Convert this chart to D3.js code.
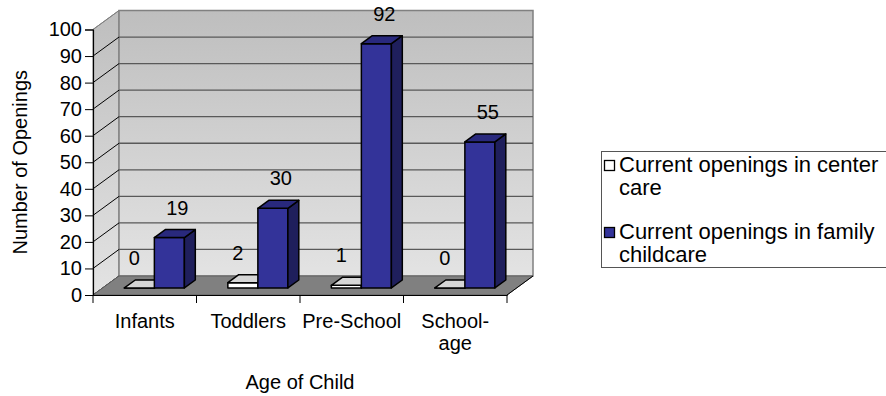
<!DOCTYPE html>
<html>
<head>
<meta charset="utf-8">
<script src="https://cdn.jsdelivr.net/npm/d3@7"></script>
<style>
  html, body { margin: 0; padding: 0; background: #ffffff; }
  svg { display: block; }
  text { font-family: "Liberation Sans", Arial, sans-serif; fill: #000; }
</style>
</head>
<body>
<svg id="chart" width="886" height="396"></svg>
<script>
// ---- data ----
const categories = ["Infants", "Toddlers", "Pre-School", "School-age"];
const categoryLines = [["Infants"], ["Toddlers"], ["Pre-School"], ["School-", "age"]];
const seriesNames = ["Current openings in center care", "Current openings in family childcare"];
const legendLines = [["Current openings in center", "care"], ["Current openings in family", "childcare"]];
const centerCare = [0, 2, 1, 0];
const familyCare = [19, 30, 92, 55];
const yTicks = [0, 10, 20, 30, 40, 50, 60, 70, 80, 90, 100];
const yTitle = "Number of Openings";
const xTitle = "Age of Child";

// ---- layout ----
const svg = d3.select("#chart");
const DX = 26, DY = -19;            // depth projection of the 3D box
const x = d3.scaleBand().domain(categories).range([93, 507]).padding(0);
const y = d3.scaleLinear().domain([0, 100]).range([295, 29.5]);
const P = (xf, v, t) => [xf + DX * t, y(v) + DY * t];
const poly = pts => pts.map(p => p.join(",")).join(" ");

const defs = svg.append("defs");
const g1 = defs.append("linearGradient").attr("id", "wallGrad")
  .attr("x1", 0).attr("y1", 0).attr("x2", 0).attr("y2", 1);
g1.append("stop").attr("offset", "0%").attr("stop-color", "#bebebe");
g1.append("stop").attr("offset", "100%").attr("stop-color", "#e3e3e3");

const x0 = x.range()[0], x1 = x.range()[1];

// side wall
svg.append("polygon")
  .attr("points", poly([P(x0, 0, 0), P(x0, 0, 1), P(x0, 100, 1), P(x0, 100, 0)]))
  .attr("fill", "url(#wallGrad)").attr("stroke", "#808080").attr("stroke-width", 1);
// back wall
svg.append("polygon")
  .attr("points", poly([P(x0, 0, 1), P(x1, 0, 1), P(x1, 100, 1), P(x0, 100, 1)]))
  .attr("fill", "url(#wallGrad)").attr("stroke", "#808080").attr("stroke-width", 1.5);

// gridlines on back wall and diagonals on side wall
yTicks.filter(v => v > 0 && v < 100).forEach(v => {
  svg.append("line")
    .attr("x1", P(x0, v, 1)[0]).attr("y1", P(x0, v, 1)[1])
    .attr("x2", P(x1, v, 1)[0]).attr("y2", P(x1, v, 1)[1])
    .attr("stroke", "#595959").attr("stroke-width", 1.3);
});
yTicks.forEach(v => {
  svg.append("line")
    .attr("x1", P(x0, v, 0)[0]).attr("y1", P(x0, v, 0)[1])
    .attr("x2", P(x0, v, 1)[0]).attr("y2", P(x0, v, 1)[1])
    .attr("stroke", v === 100 ? "#808080" : "#000").attr("stroke-width", 1);
});

// floor
svg.append("polygon")
  .attr("points", poly([P(x0, 0, 0), P(x1, 0, 0), P(x1, 0, 1), P(x0, 0, 1)]))
  .attr("fill", "#808080").attr("stroke", "#606060").attr("stroke-width", 1);

// y axis (front edge)
const yAxis = d3.axisLeft(y).tickValues(yTicks).tickSize(8).tickPadding(3).tickFormat(d3.format("d"));
const ya = svg.append("g").attr("transform", `translate(${x0},0)`).call(yAxis);
ya.select(".domain").attr("stroke", "#000").attr("stroke-width", 1.2);
ya.selectAll(".tick line").attr("stroke", "#000");
ya.selectAll(".tick text").attr("font-size", 20).attr("font-family", "Liberation Sans, Arial, sans-serif").attr("fill", "#000");

// x axis
const xAxis = d3.axisBottom(x).tickSize(0).tickFormat("");
const xa = svg.append("g").attr("transform", `translate(0,${y(0)})`).call(xAxis);
xa.select(".domain").attr("stroke", "#000").attr("stroke-width", 1.2);
const bounds = categories.map(c => x(c)).concat([x1]);
xa.selectAll("line.cb").data(bounds).enter().append("line").attr("class", "cb")
  .attr("x1", d => d).attr("x2", d => d).attr("y1", 0).attr("y2", 8)
  .attr("stroke", "#000").attr("stroke-width", 1);
// right floor edge
svg.append("line")
  .attr("x1", P(x1, 0, 0)[0]).attr("y1", P(x1, 0, 0)[1])
  .attr("x2", P(x1, 0, 1)[0]).attr("y2", P(x1, 0, 1)[1])
  .attr("stroke", "#000").attr("stroke-width", 1);

// category labels
categories.forEach((c, i) => {
  const t = svg.append("text").attr("text-anchor", "middle").attr("font-size", 20)
    .attr("x", x(c) + x.bandwidth() / 2).attr("y", 328);
  categoryLines[i].forEach((ln, k) => {
    t.append("tspan").attr("x", x(c) + x.bandwidth() / 2).attr("dy", k === 0 ? 0 : 22).text(ln);
  });
});

// ---- bars ----
const series = [
  { name: seriesNames[0], values: centerCare, front: "#ffffff", top: "#d6d6d6", side: "#c0c0c0", labelDx: -5 },
  { name: seriesNames[1], values: familyCare, front: "#333399", top: "#29297d", side: "#1f1f5c", labelDx: 8 }
];
const barW = x.bandwidth() * 0.29;
const T0 = 0.37, T1 = 0.79;
const barsG = svg.append("g");
const labelsG = svg.append("g");
categories.forEach((c, i) => {
  const cx = x(c) + x.bandwidth() / 2;
  series.forEach((s, k) => {
    const bx0 = cx - barW + k * barW, bx1 = bx0 + barW;
    const v = s.values[i];
    const g = barsG.append("g").attr("stroke", "#000").attr("stroke-width", 1.5).attr("stroke-linejoin", "round");
    g.append("polygon").attr("points", poly([P(bx0, 0, T0), P(bx1, 0, T0), P(bx1, v, T0), P(bx0, v, T0)])).attr("fill", s.front);
    g.append("polygon").attr("points", poly([P(bx1, 0, T0), P(bx1, 0, T1), P(bx1, v, T1), P(bx1, v, T0)])).attr("fill", s.side);
    g.append("polygon").attr("points", poly([P(bx0, v, T0), P(bx1, v, T0), P(bx1, v, T1), P(bx0, v, T1)])).attr("fill", s.top);
    const fc = P((bx0 + bx1) / 2, v, T1);
    labelsG.append("text").attr("text-anchor", "middle").attr("font-size", 20)
      .attr("x", P((bx0 + bx1) / 2, v, T0)[0] + s.labelDx)
      .attr("y", fc[1] - 22 + 7)
      .text(v);
  });
});

// axis titles
svg.append("text").attr("text-anchor", "middle").attr("font-size", 20)
  .attr("transform", `translate(27,${(y(0) + y(100)) / 2}) rotate(-90)`).text(yTitle);
svg.append("text").attr("text-anchor", "middle").attr("font-size", 20)
  .attr("x", (x0 + x1) / 2).attr("y", 389).text(xTitle);

// ---- legend ----
const lg = svg.append("g");
lg.append("rect").attr("x", 601.5).attr("y", 151.5).attr("width", 300).attr("height", 116)
  .attr("fill", "#fff").attr("stroke", "#555").attr("stroke-width", 1);
series.forEach((s, k) => {
  const base = 172 + k * 67;
  lg.append("rect").attr("x", 604.5).attr("y", base - 11.5).attr("width", 10).attr("height", 10)
    .attr("fill", s.front).attr("stroke", "#000").attr("stroke-width", 1.3);
  legendLines[k].forEach((ln, j) => {
    lg.append("text").attr("x", 619).attr("y", base + j * 23).attr("font-size", 22).text(ln);
  });
});
</script>
</body>
</html>
